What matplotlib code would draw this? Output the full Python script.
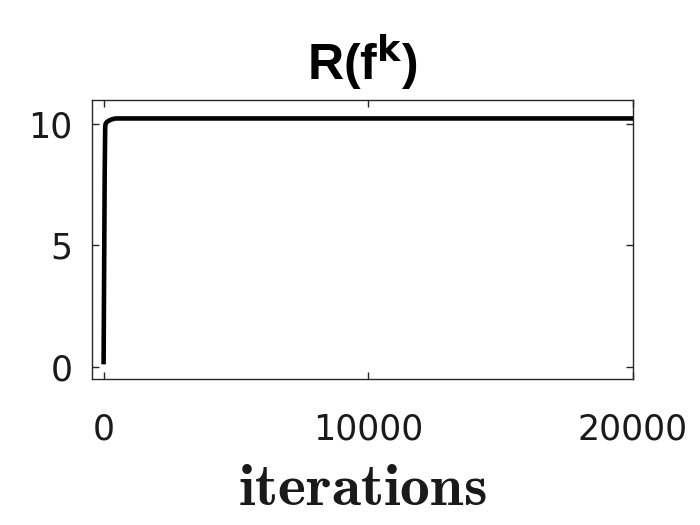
import matplotlib.pyplot as plt
import numpy as np

# values
iterations = [0, 20, 40, 60, 80, 120, 200, 300, 450, 20000]
r_values = [0.2, 4.0, 7.8, 9.9, 10.02, 10.08, 10.14, 10.19, 10.23, 10.23]

x_ticks = [0, 10000, 20000]
x_tick_labels = ['0', '10000', '20000']
y_ticks = [0, 5, 10]
y_tick_labels = ['0', '5', '10']

fig = plt.figure(figsize=(7, 5.25), dpi=100)
ax = fig.add_axes([0.131, 0.278, 0.773, 0.532])

ax.plot(iterations, r_values, color='black', linewidth=3.3, solid_joinstyle='round')

ax.set_xlim(-450, 20000)
ax.set_ylim(-0.5, 11)

ax.set_xticks(x_ticks, x_tick_labels)
ax.set_yticks(y_ticks, y_tick_labels)

ax.tick_params(direction='in', top=True, right=True, length=5, width=1, color='#262626',
               labelsize=25, labelfontfamily='DejaVu Sans', labelcolor='#1a1a1a')
ax.tick_params(axis='x', pad=24)
ax.tick_params(axis='y', pad=14)
for spine in ax.spines.values():
    spine.set_color('#262626')
    spine.set_linewidth(1.0)

ax.set_xlabel(r'$\mathbf{iterations}$', fontsize=43, labelpad=9, color='#1a1a1a',
              math_fontfamily='cm')
ax.set_title(r'R(f$^{\mathbf{k}}$)', fontfamily='Liberation Sans', fontweight='bold',
             fontsize=36, pad=14, math_fontfamily='dejavusans')

fig.savefig('out.png', dpi=100)
